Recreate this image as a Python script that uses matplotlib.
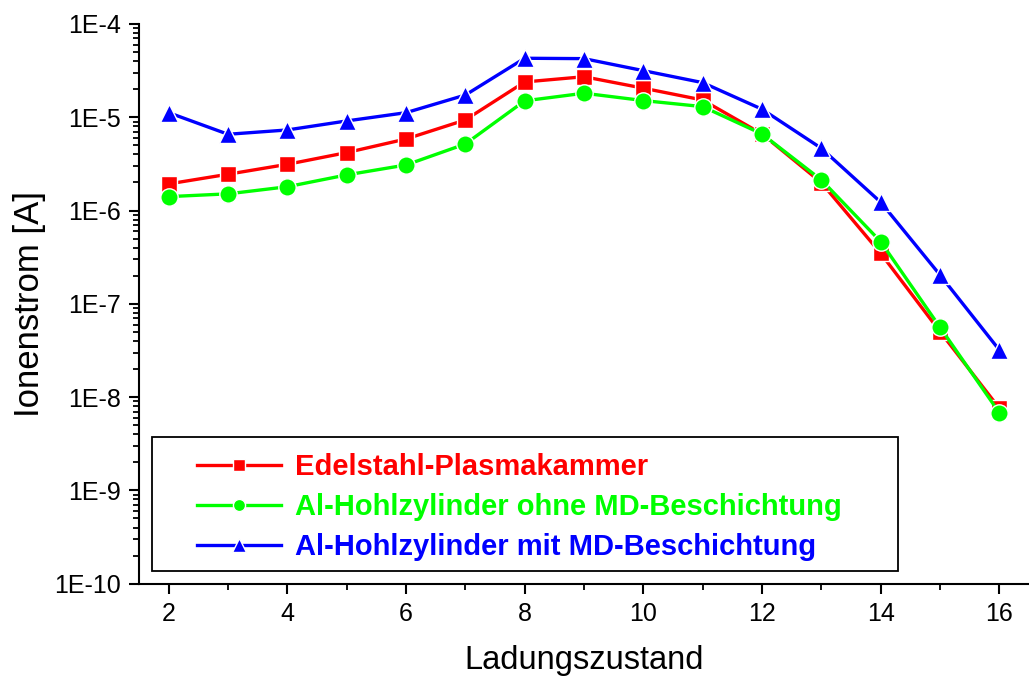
import numpy as np
import matplotlib
matplotlib.use("Agg")
import matplotlib.pyplot as plt
from matplotlib.ticker import FixedLocator, FuncFormatter, NullFormatter
from matplotlib.patches import Rectangle

# ========================= Data =========================
charge_states = [2, 3, 4, 5, 6, 7, 8, 9, 10, 11, 12, 13, 14, 15, 16]

edelstahl = [1.93e-6, 2.45e-6, 3.13e-6, 4.18e-6, 5.85e-6, 9.36e-6, 2.39e-5, 2.72e-5,
             2.05e-5, 1.53e-5, 6.62e-6, 1.99e-6, 3.48e-7, 5.04e-8, 7.6e-9]
al_ohne = [1.41e-6, 1.51e-6, 1.80e-6, 2.41e-6, 3.08e-6, 5.17e-6, 1.50e-5, 1.81e-5,
           1.51e-5, 1.30e-5, 6.62e-6, 2.13e-6, 4.64e-7, 5.61e-8, 6.8e-9]
al_mit = [1.12e-5, 6.57e-6, 7.31e-6, 9.13e-6, 1.12e-5, 1.73e-5, 4.29e-5, 4.25e-5,
          3.16e-5, 2.35e-5, 1.22e-5, 4.65e-6, 1.23e-6, 2.04e-7, 3.2e-8]

labels = ["Edelstahl-Plasmakammer",
          "Al-Hohlzylinder ohne MD-Beschichtung",
          "Al-Hohlzylinder mit MD-Beschichtung"]
colors = ["#FF0000", "#00FF00", "#0000FF"]
markers = ["s", "o", "^"]

decades = [-10, -9, -8, -7, -6, -5, -4]

# ========================= Plot =========================
plt.rcParams['font.family'] = ['Liberation Sans', 'DejaVu Sans']

fig = plt.figure(figsize=(10.29, 6.81), dpi=100)
ax = fig.add_axes([0.1351, 0.1429, 0.8649, 0.8219])

series = [edelstahl, al_ohne, al_mit]
sizes = [12, 12.5, 13.5]
for vals, lab, col, mk, ms in zip(series, labels, colors, markers, sizes):
    ax.plot(charge_states, vals, color=col, marker=mk, markersize=ms,
            markeredgecolor='white', markeredgewidth=1.0, linewidth=2.4,
            label=lab, clip_on=False)

ax.set_yscale('log')
ax.set_ylim(1e-10, 1e-4)
ax.set_xlim(1.5, 16.5)

major_y = [10.0 ** d for d in decades]
minor_y = [m * 10.0 ** d for d in decades[:-1] for m in range(2, 10)]
ax.xaxis.set_major_locator(FixedLocator([2, 4, 6, 8, 10, 12, 14, 16]))
ax.xaxis.set_minor_locator(FixedLocator([3, 5, 7, 9, 11, 13, 15]))
ax.yaxis.set_major_locator(FixedLocator(major_y))
ax.yaxis.set_minor_locator(FixedLocator(minor_y))
ax.yaxis.set_minor_formatter(NullFormatter())
ax.yaxis.set_major_formatter(FuncFormatter(lambda v, p: "1E%d" % int(round(np.log10(v)))))

for side in ['top', 'right']:
    ax.spines[side].set_visible(False)
for side in ['left', 'bottom']:
    ax.spines[side].set_linewidth(1.5)

ax.tick_params(axis='both', which='major', direction='out', length=7, width=1.5,
               labelsize=18, pad=6)
ax.tick_params(axis='both', which='minor', direction='out', length=4, width=1.3)

ax.set_xlabel("Ladungszustand", fontsize=23.5, labelpad=14)
ax.set_ylabel("Ionenstrom [A]", fontsize=25, labelpad=6)

# legend frame drawn separately so the entries sit like in the original
ax.add_patch(Rectangle((0.0146, 0.0227), 0.838, 0.2394, transform=ax.transAxes,
                       fill=False, edgecolor='black', linewidth=1.3, zorder=5))
leg = ax.legend(loc='upper left', bbox_to_anchor=(0.065, 0.234), frameon=False,
                prop={'weight': 'bold', 'size': 21},
                handlelength=2.9, handletextpad=0.45, labelspacing=0.42,
                borderpad=0, borderaxespad=0, markerscale=0.7)
for txt, col in zip(leg.get_texts(), colors):
    txt.set_color(col)

fig.savefig("out.png", dpi=100)
